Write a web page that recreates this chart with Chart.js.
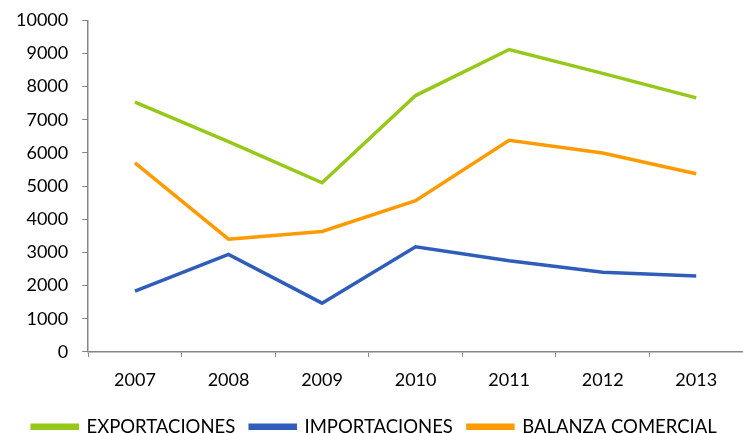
<!DOCTYPE html>
<html>
<head>
<title>Balanza comercial</title>
<script src="https://cdn.jsdelivr.net/npm/chart.js@4.4.1/dist/chart.umd.min.js"></script>
<style>
html, body { margin:0; padding:0; background:#fff; }
</style>
</head>
<body>
<div style="width:743px;height:433px;">
<canvas id="line1"></canvas>
</div>

<script>
var years = ['2007', '2008', '2009', '2010', '2011', '2012', '2013'];
var exportaciones = [7530, 6340, 5100, 7730, 9120, 8400, 7660];
var importaciones = [1830, 2940, 1470, 3170, 2750, 2400, 2290];
var balanza = [5700, 3400, 3630, 4560, 6380, 6000, 5370];

var axisGray = '#868686';
var fontFam = 'Lato, "Open Sans", sans-serif';

var ctx = document.getElementById('line1').getContext('2d');
var chart = new Chart(ctx, {
	type: 'line',
	data: {
		labels: years,
		datasets: [
			{
				label: 'EXPORTACIONES',
				borderColor: '#95c819',
				backgroundColor: '#95c819',
				data: exportaciones
			},
			{
				label: 'IMPORTACIONES',
				borderColor: '#2f5db9',
				backgroundColor: '#2f5db9',
				data: importaciones
			},
			{
				label: 'BALANZA COMERCIAL',
				borderColor: '#ff9b00',
				backgroundColor: '#ff9b00',
				data: balanza
			}
		]
	},
	options: {
		responsive: true,
		maintainAspectRatio: false,
		animation: false,
		layout: { padding: { left: 2, right: -4, top: 1, bottom: -13 } },
		elements: {
			line: { borderWidth: 3.5, tension: 0 },
			point: { radius: 0, hoverRadius: 0 }
		},
		plugins: {
			tooltip: { enabled: false },
			legend: {
				position: 'bottom',
				labels: {
					boxWidth: 45,
					boxHeight: 3,
					padding: 15,
					color: '#000',
					font: { family: fontFam, size: 18.5 }
				}
			}
		},
		scales: {
			x: {
				offset: true,
				grid: { display: true, offset: true, drawOnChartArea: false, tickLength: 5, color: axisGray, lineWidth: 1 },
				border: { color: axisGray, width: 1.5 },
				ticks: { color: '#000', padding: 12, font: { family: fontFam, size: 18 } }
			},
			y: {
				min: 0,
				max: 10000,
				ticks: {
					stepSize: 1000,
					color: '#000',
					padding: 14,
					font: { family: fontFam, size: 18, lineHeight: 0.7 },
					callback: function(v) { return String(v); }
				},
				grid: { display: true, drawOnChartArea: false, tickLength: 6, color: axisGray, lineWidth: 1 },
				border: { color: axisGray, width: 1.5 }
			}
		}
	}
});
</script>
</body>
</html>
